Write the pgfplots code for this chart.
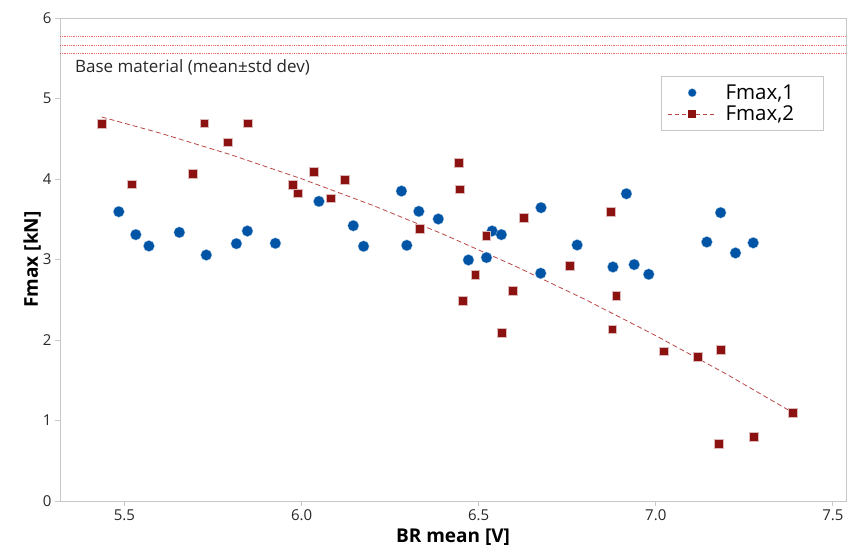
\documentclass[border=0pt]{standalone}
\usepackage{pgfplots}
\pgfplotsset{compat=1.18}
\usepackage{fontspec}
\setmainfont{Open Sans}

\definecolor{ptblue}{RGB}{0,84,166}
\definecolor{ptred}{RGB}{140,18,18}
\definecolor{fitred}{RGB}{185,70,70}
\definecolor{basered}{RGB}{235,105,105}
\definecolor{axgray}{RGB}{200,200,200}
\definecolor{txt}{RGB}{40,40,40}

\pgfplotsset{
    linelegend/.style={legend image code/.code={\draw[mark repeat=2,mark phase=2,##1] plot coordinates {(0pt,0pt) (24pt,0pt) (48pt,0pt)};}},
    dotlegend/.style={legend image code/.code={\draw[##1, mark size=4.2pt] plot coordinates {(24pt,0pt)};}},
}

\begin{document}
\begin{tikzpicture}
\begin{axis}[
    scale only axis,
    width=786pt, height=483pt,
    at={(0,0)}, anchor=south west,
    xmin=5.318, xmax=7.537,
    ymin=0, ymax=6,
    xtick={5.5,6.0,6.5,7.0,7.5},
    ytick={0,1,2,3,4,5,6},
    xticklabel style={/pgf/number format/fixed,/pgf/number format/fixed zerofill,/pgf/number format/precision=1},
    /pgf/number format/assume math mode=true,
    ticklabel style={font=\fontsize{15}{18}\selectfont, text=txt},
    axis line style={axgray, line width=0.9pt},
    tick style={axgray, line width=0.9pt},
    tick align=outside,
    major tick length=5pt,
    xtick pos=left, ytick pos=left,
    xlabel={\bfseries BR mean [V]},
    ylabel={\bfseries Fmax [kN]},
    label style={font=\fontsize{19}{22}\selectfont, text=black, inner sep=0pt},
    xlabel style={at={(axis description cs:0.5,0)}, anchor=north, yshift=-28pt},
    ylabel style={at={(axis description cs:-0.0242,0.5)}, anchor=south},
    legend style={
        at={(axis cs:7.475,5.283)}, anchor=north east,
        draw=axgray, line width=0.9pt, fill=white,
        font=\fontsize{20.5}{21}\selectfont,
        inner xsep=6pt, inner ysep=8pt,
        row sep=4pt, column sep=7pt,
        nodes={inner ysep=0.5pt},
        cells={anchor=west},
    },
    linelegend,
]
% base material: mean and mean +/- std dev
\addplot[basered, densely dotted, line width=0.8pt, forget plot] coordinates {(5.318,5.77) (7.537,5.77)};
\addplot[basered, densely dotted, line width=0.8pt, forget plot] coordinates {(5.318,5.665) (7.537,5.665)};
\addplot[basered, densely dotted, line width=0.8pt, forget plot] coordinates {(5.318,5.56) (7.537,5.56)};

% fit line for Fmax,2
\addplot[fitred, dash pattern=on 5pt off 3pt, line width=0.8pt, forget plot] coordinates {
    (5.436,4.77) (5.6,4.571) (5.8,4.302) (6.0,4.003) (6.2,3.674) (6.4,3.314)
    (6.6,2.924) (6.8,2.505) (7.0,2.054) (7.2,1.575) (7.386,1.10)
};

\addplot[only marks, mark=*, mark size=5.6pt, mark options={fill=ptblue, draw=white!70!ptblue, line width=0.3pt}, dotlegend] coordinates {
    (5.484,3.594) (5.532,3.309) (5.569,3.168) (5.655,3.337) (5.731,3.056)
    (5.816,3.197) (5.847,3.354) (5.926,3.201) (6.049,3.722) (6.146,3.420)
    (6.175,3.164) (6.282,3.850) (6.297,3.176) (6.331,3.598) (6.386,3.503)
    (6.471,2.994) (6.522,3.024) (6.538,3.354) (6.564,3.309) (6.676,3.644)
    (6.675,2.829) (6.778,3.180) (6.879,2.907) (6.917,3.817) (6.939,2.937)
    (6.980,2.816) (7.144,3.217) (7.183,3.582) (7.225,3.081) (7.275,3.207)
};
\addlegendentry{\makebox[90pt][l]{Fmax,1}}

\addplot[only marks, mark=square*, mark size=4.4pt, mark options={fill=ptred, draw=white!70!ptred, line width=0.3pt}, forget plot] coordinates {
    (5.436,4.690) (5.520,3.937) (5.692,4.069) (5.725,4.694) (5.792,4.458)
    (5.847,4.694) (5.975,3.933) (5.990,3.825) (6.033,4.094) (6.081,3.763)
    (6.121,3.990) (6.334,3.387) (6.443,4.202) (6.446,3.875) (6.454,2.490)
    (6.490,2.810) (6.521,3.300) (6.565,2.088) (6.596,2.614) (6.627,3.515)
    (6.756,2.919) (6.873,3.598) (6.877,2.134) (6.888,2.547) (7.023,1.861)
    (7.118,1.790) (7.177,0.711) (7.182,1.877) (7.277,0.800) (7.386,1.100)
};
\addlegendimage{fitred, dash pattern=on 4pt off 3pt, line width=0.8pt, mark=square*, mark size=3.6pt, mark options={solid, fill=ptred, draw=ptred}}
\addlegendentry{\makebox[90pt][l]{Fmax,2}}

\node[anchor=west, inner sep=0pt, font=\fontsize{17}{20}\selectfont, text=txt] at (axis cs:5.36,5.39) {Base material (mean±std dev)};
\end{axis}
\pgfresetboundingbox
\path[use as bounding box] (-60pt,-47pt) rectangle (793pt,501pt);
\end{tikzpicture}
\end{document}
